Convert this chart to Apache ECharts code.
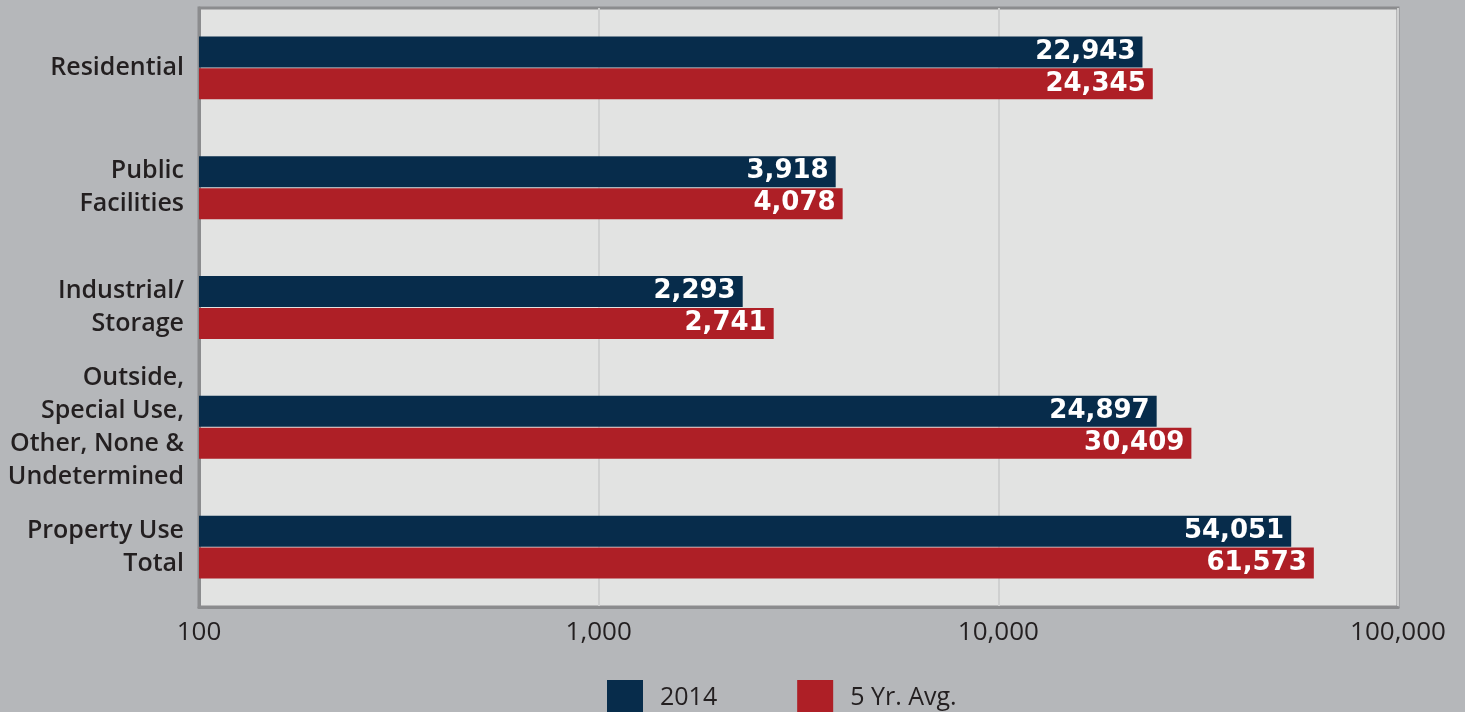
<!DOCTYPE html>
<html>
<head>
<meta charset="utf-8">
<script src="https://cdn.jsdelivr.net/npm/echarts@6/dist/echarts.min.js"></script>
<style>
  html, body { margin: 0; padding: 0; background: #b5b7ba; }
  #chart { width: 1465px; height: 712px; }
</style>
</head>
<body>
<div id="chart"></div>
<script>
// 分类与数据
const categories = ['Residential', 'Public\nFacilities', 'Industrial/\nStorage', 'Outside,\nSpecial Use,\nOther, None &\nUndetermined', 'Property Use\nTotal'];
const seriesNames = ['2014', '5 Yr. Avg.'];
const values2014 = [22943, 3918, 2293, 24897, 54051];
const valuesAvg = [24345, 4078, 2741, 30409, 61573];
const xTicks = [100, 1000, 10000, 100000];

const fmt = v => Number(v).toLocaleString('en-US');
const FONT = 'Open Sans';
const TEXT = '#231f20';

const chart = echarts.init(document.getElementById('chart'));

// 数值标签样式
const valueLabel = {
  show: true, position: 'insideRight', distance: 7,
  fontFamily: 'DejaVu Sans', fontSize: 26, fontWeight: 'bold', color: '#ffffff',
  formatter: p => fmt(p.value)
};

const option = {
  backgroundColor: '#b5b7ba',
  animation: false,
  grid: {
    left: 199, top: 8, right: 67, bottom: 105,
    show: true,
    backgroundColor: '#e2e3e2',
    borderColor: '#8b8c8e',
    borderWidth: 3
  },
  legend: {
    data: seriesNames,
    left: 602,
    top: 675,
    itemWidth: 36,
    itemHeight: 36,
    itemGap: 80,
    icon: 'rect',
    textStyle: { fontFamily: FONT, fontSize: 25, fontWeight: 500, color: TEXT, padding: [0, 0, 0, 12] }
  },
  xAxis: {
    type: 'log',
    logBase: 10,
    min: xTicks[0],
    max: xTicks[xTicks.length - 1],
    axisLine: { show: true, lineStyle: { color: '#8b8c8e', width: 3 } },
    axisTick: { show: false },
    splitLine: { show: true, lineStyle: { color: '#cfd0d0', width: 2 } },
    axisLabel: {
      fontFamily: FONT, fontSize: 26, fontWeight: 500, color: TEXT, margin: 13,
      formatter: v => fmt(v)
    }
  },
  yAxis: {
    type: 'category',
    inverse: true,
    data: categories,
    axisLine: { show: true, lineStyle: { color: '#8b8c8e', width: 3 } },
    axisTick: { show: false },
    axisLabel: {
      fontFamily: FONT, fontSize: 25, fontWeight: 600, color: TEXT,
      margin: 15, lineHeight: 33, align: 'right'
    }
  },
  series: [
    {
      name: seriesNames[0],
      type: 'bar',
      data: values2014,
      barWidth: 31,
      barGap: '3%',
      itemStyle: { color: '#072c4b' },
      label: valueLabel
    },
    {
      name: seriesNames[1],
      type: 'bar',
      data: valuesAvg,
      barWidth: 31,
      itemStyle: { color: '#ae1f26' },
      label: valueLabel
    }
  ]
};

chart.setOption(option);
</script>
</body>
</html>
